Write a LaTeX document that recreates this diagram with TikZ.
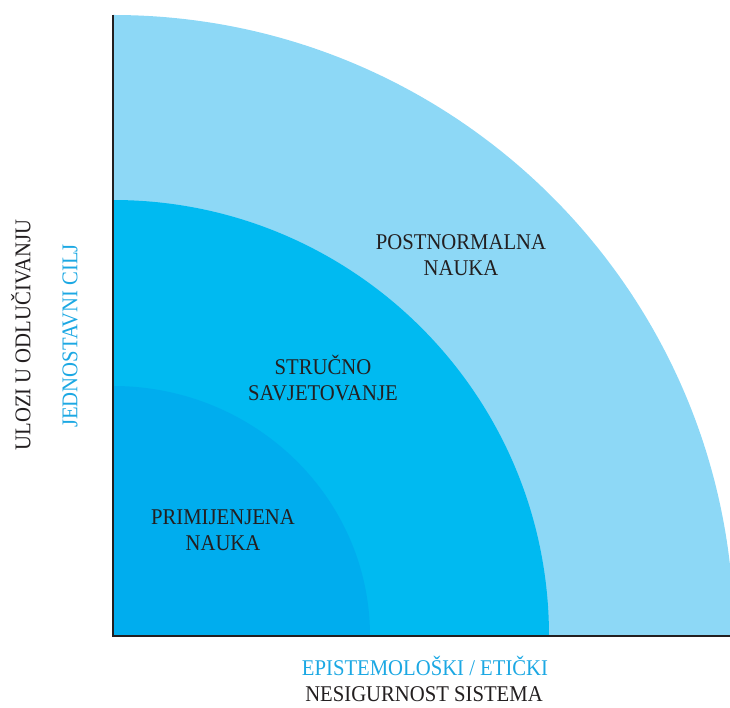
\documentclass[tikz,border=0pt]{standalone}
\usepackage{fontspec}
\setmainfont[FakeStretch=0.92]{Liberation Serif}
\definecolor{outerblue}{HTML}{8DD8F6}
\definecolor{midblue}{HTML}{00BAF1}
\definecolor{innerblue}{HTML}{00ADEE}
\definecolor{labelblue}{HTML}{1CA8E3}
\definecolor{darktext}{HTML}{231F20}
\tikzset{
  lbl/.style={align=center, text=darktext, font=\fontsize{22.5}{26}\selectfont, inner sep=0pt},
  axlbl/.style={text=darktext, font=\fontsize{22.5}{26}\selectfont, inner sep=0pt},
  axlblblue/.style={axlbl, text=labelblue},
  axis/.style={draw=darktext, line width=2pt}
}
\begin{document}
\begin{tikzpicture}[x=1pt,y=1pt]
\useasboundingbox (0,0) rectangle (730,707);
\begin{scope}
\clip (0,0) rectangle (730,707);
\fill[outerblue] (113,71) -- (113,692) arc[start angle=90,end angle=0,radius=621] -- cycle;
\fill[midblue] (113,71) -- (113,507) arc[start angle=90,end angle=0,radius=436] -- cycle;
\fill[innerblue] (113,71) -- (113,321) arc[start angle=90,end angle=0,x radius=257,y radius=250] -- cycle;
\end{scope}
\coordinate (origin) at (113,71);
\coordinate (ytop) at (113,692);
\coordinate (xend) at (730,71);
\draw[axis] (ytop) -- (origin) -- (xend);
\node[lbl] (applied) at (223,177) {PRIMIJENJENA\\NAUKA};
\node[lbl] (consult) at (323,329) {STRUČNO\\SAVJETOVANJE};
\node[lbl] (postnormal) at (461,452) {POSTNORMALNA\\NAUKA};
\node[axlblblue] (epist) at (425,41) {EPISTEMOLOŠKI / ETIČKI};
\node[axlbl] (nesig) at (424,12.5) {NESIGURNOST SISTEMA};
\node[axlbl, rotate=90] (ulozi) at (21,372) {ULOZI U ODLUČIVANJU};
\node[axlblblue, rotate=90] (cilj) at (70,371) {JEDNOSTAVNI CILJ};
\end{tikzpicture}
\end{document}
